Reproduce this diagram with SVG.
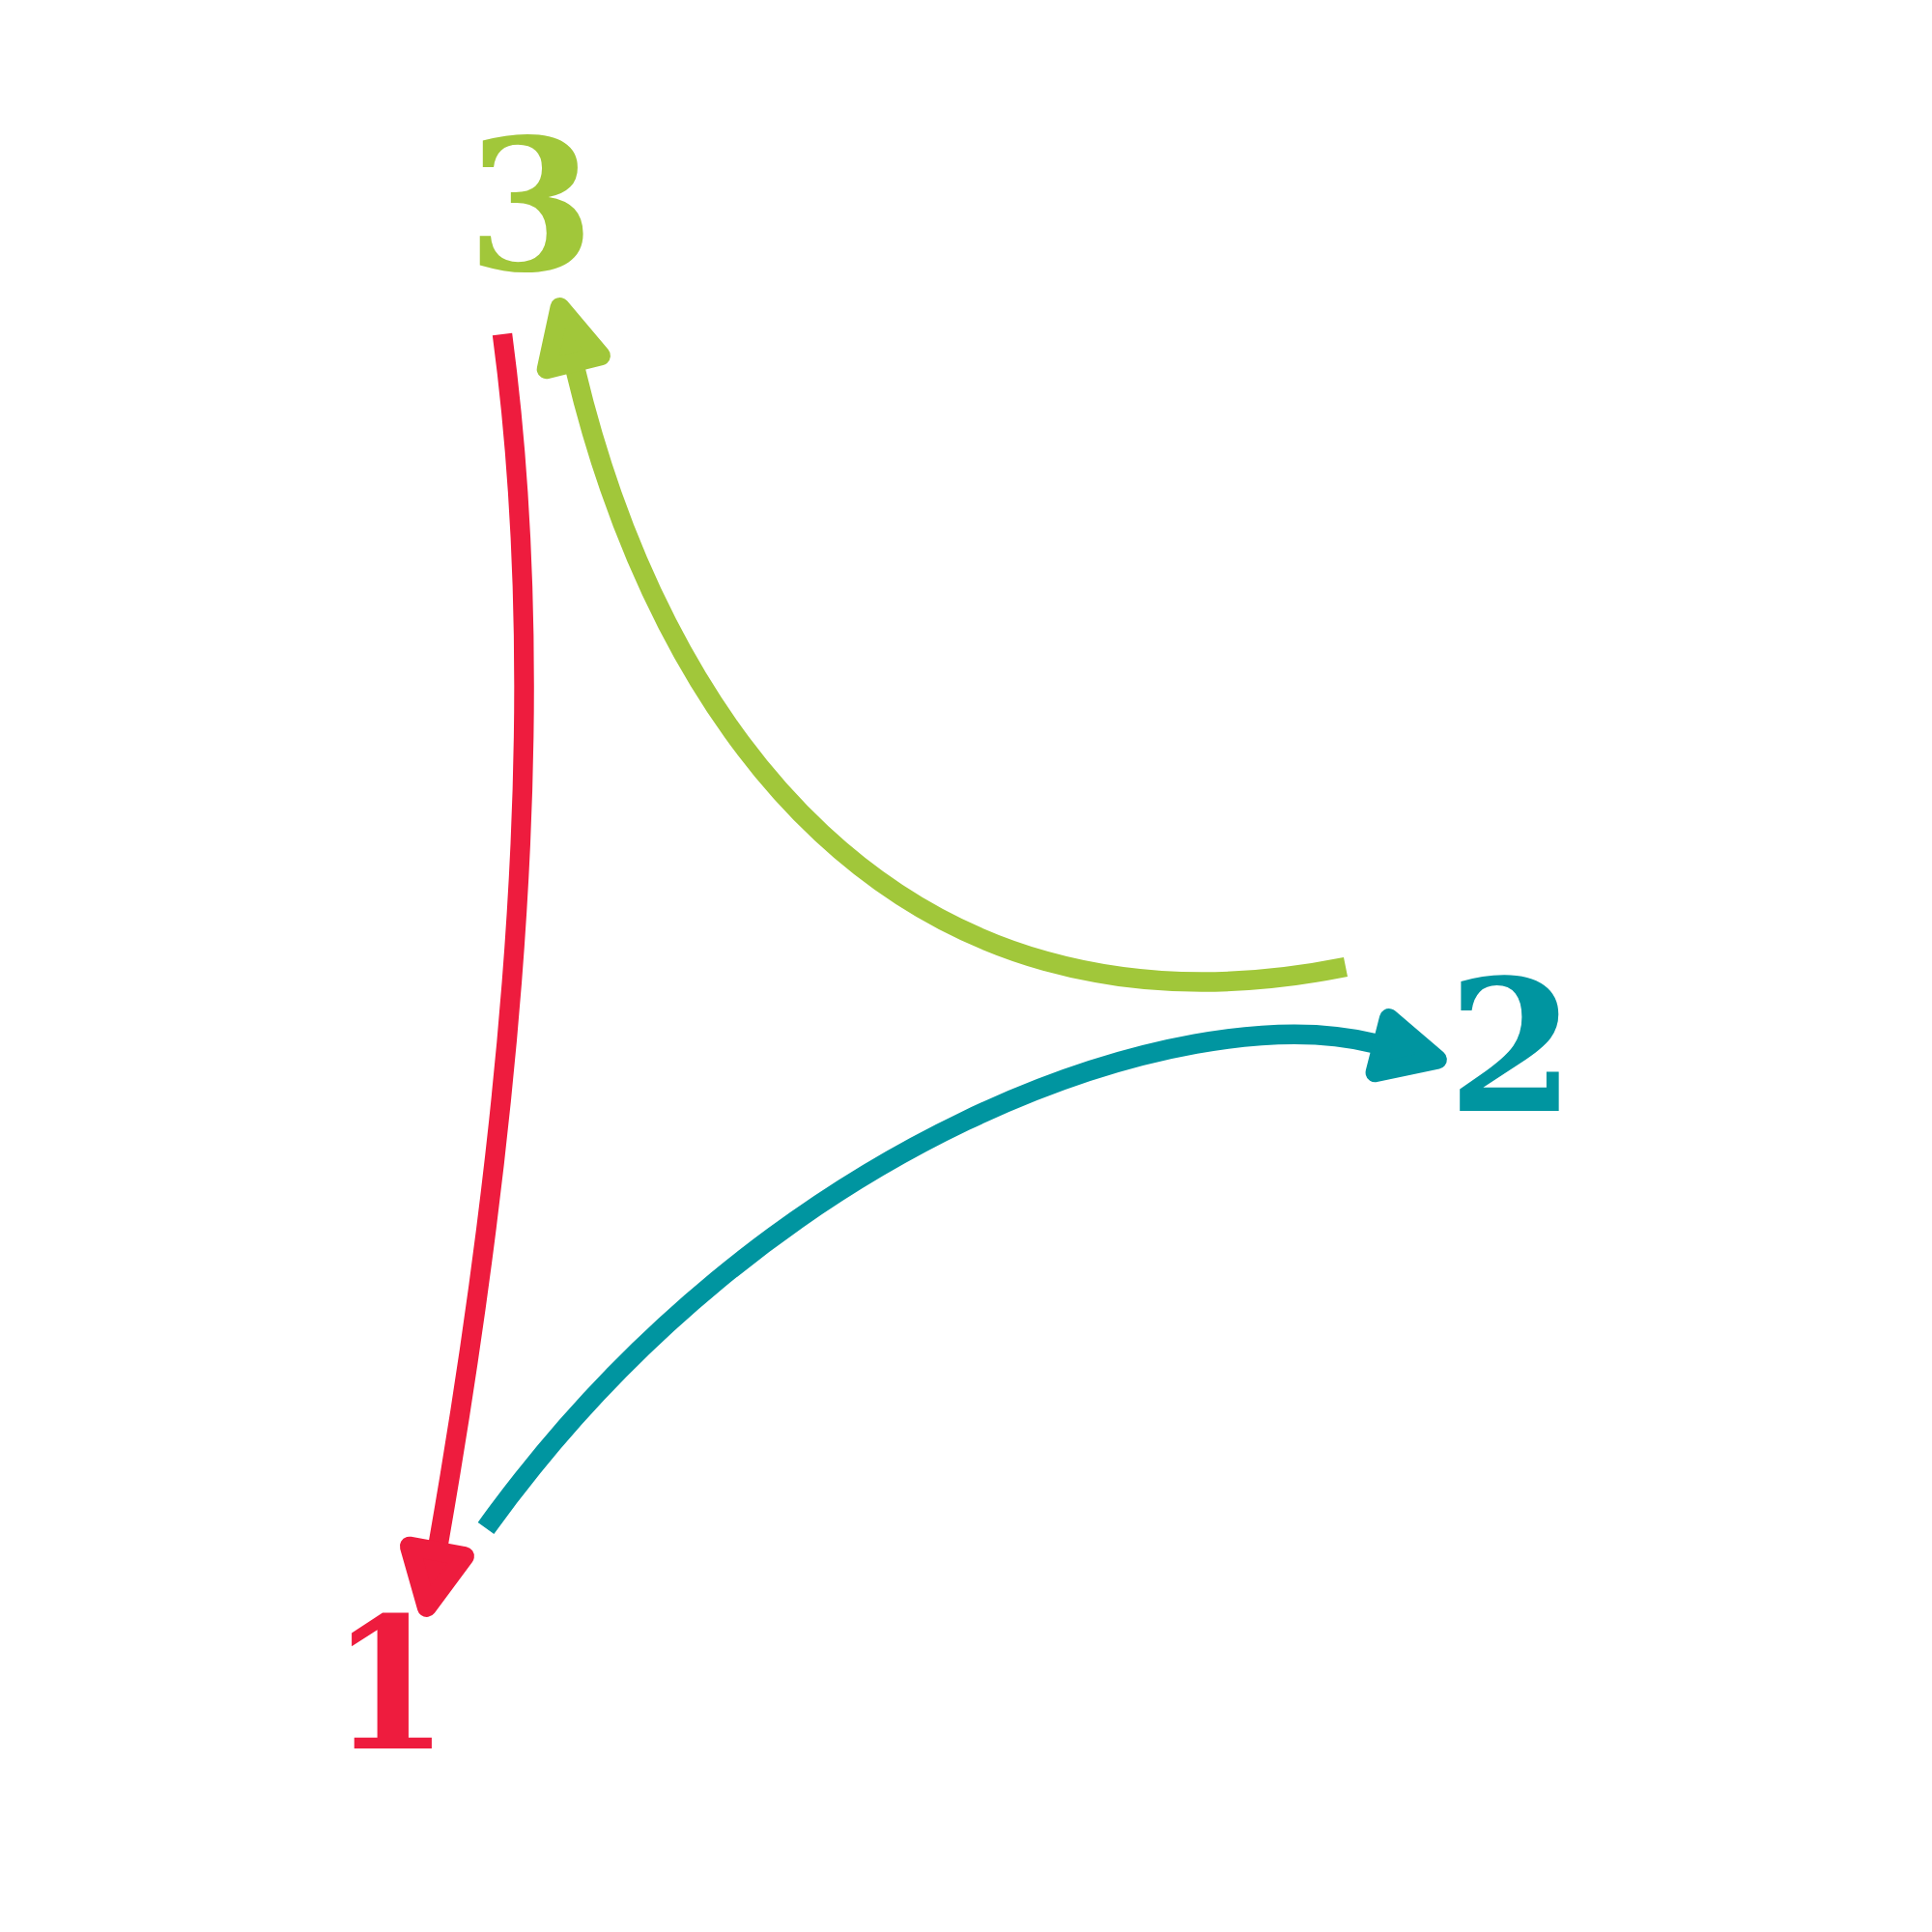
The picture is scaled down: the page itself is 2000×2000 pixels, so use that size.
<svg xmlns="http://www.w3.org/2000/svg" xmlns:xlink="http://www.w3.org/1999/xlink" width="2000" height="2000" viewBox="0 0 2000 2000">
  <style>
    .lbl { font-family: "DejaVu Serif", "Liberation Serif", serif; font-weight: bold; font-size: 190px; text-anchor: middle; }
    .edge { fill: none; stroke-width: 20.5; stroke-linecap: butt; }
    .red { fill: #EE1C3E; stroke: #EE1C3E; }
    .teal { fill: #0095A0; stroke: #0095A0; }
    .green { fill: #A1C73A; stroke: #A1C73A; }
  </style>
  <defs>
    <path id="ah" d="M9,-29 L68,0 L9,29 Z" stroke-width="20" stroke-linejoin="round"/>
  </defs>
  <rect width="2000" height="2000" fill="#FFFFFF"/>
  <g id="connectors">
    <path class="edge red" style="fill:none" d="M520,346 C560,646 552,1036 454,1597"/>
    <use xlink:href="#ah" class="red" transform="translate(454,1597) rotate(100.3)"/>
    <path class="edge teal" style="fill:none" d="M503,1582 C795,1176 1228,1031 1422,1080"/>
    <use xlink:href="#ah" class="teal" transform="translate(1422,1080) rotate(14.3)"/>
    <path class="edge green" style="fill:none" d="M1393,1001 C923,1095 682,744 596,384"/>
    <use xlink:href="#ah" class="green" transform="translate(596,384) rotate(-104)"/>
  </g>
  <g id="node1">
    <text class="lbl" x="403.5" y="1810" fill="#EE1C3E" transform="translate(403.5,0) scale(0.92,1) translate(-403.5,0)">1</text>
  </g>
  <g id="node2">
    <text class="lbl" x="1564.5" y="1150" fill="#0095A0">2</text>
  </g>
  <g id="node3">
    <text class="lbl" x="549.5" y="279" fill="#A1C73A">3</text>
  </g>
</svg>
